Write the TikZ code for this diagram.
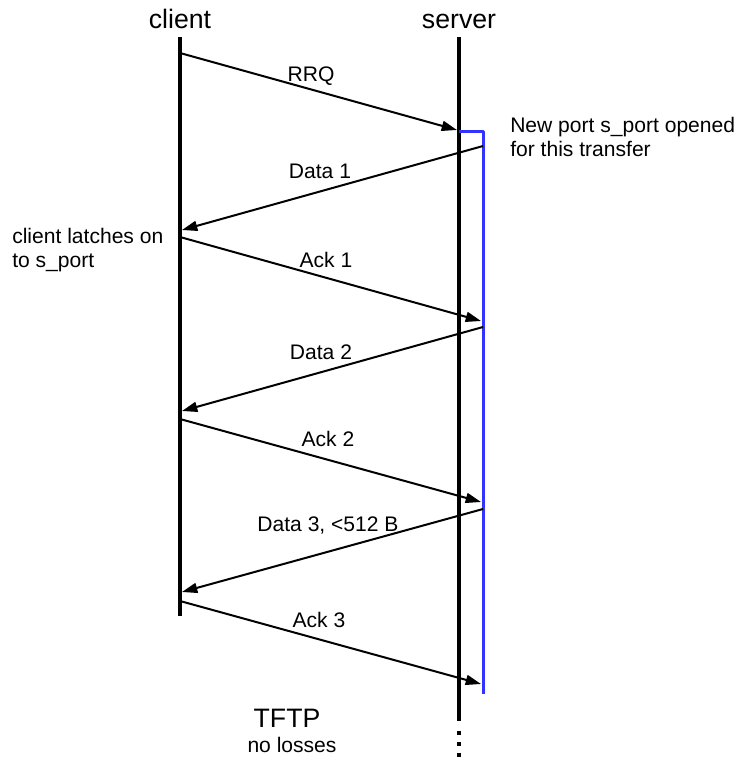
\documentclass[tikz,border=0pt]{standalone}
\usepackage{fontspec}
\setmainfont{Liberation Sans}
\usetikzlibrary{arrows.meta}
\tikzset{
  msg/.style={line width=1.5pt, -{Triangle[length=11.5pt,width=7.5pt]}},
  life/.style={line width=3pt},
  port/.style={line width=2.25pt, draw=portblue},
  lbl/.style={font=\fontsize{15.8}{17.8}\selectfont, inner sep=0pt},
  head/.style={font=\fontsize{20}{23}\selectfont, inner sep=0pt}
}
\definecolor{portblue}{RGB}{51,51,255}
\begin{document}
\begin{tikzpicture}[x=0.75pt, y=-0.75pt, line join=round]
      \useasboundingbox (0,0) rectangle (737,757);
      \def\cx{180}
      \def\sx{459}
      \def\bx{483}
      % lifelines
      \node[head, anchor=base] (client) at (\cx,28) {client};
      \node[head, anchor=base] (server) at (\sx,28) {server};
      \draw[life] (\cx,37) -- (\cx,616);
      \draw[life] (\sx,37) -- (\sx,721);
      \draw[life, dash pattern=on 3pt off 5.25pt] (\sx,731) -- (\sx,757);
      \draw[port] (\sx,131) -- (\bx,131) -- (\bx,694);
      % message end points
      \coordinate (C1) at (\cx,53); \coordinate (S1) at (457,130);
      \coordinate (B1) at (\bx,146); \coordinate (C2) at (182,230);
      \coordinate (C3) at (\cx,237); \coordinate (B2) at (481,321);
      \coordinate (B3) at (\bx,327); \coordinate (C4) at (182,411);
      \coordinate (C5) at (\cx,419); \coordinate (B4) at (481,502);
      \coordinate (B5) at (\bx,509); \coordinate (C6) at (182,592);
      \coordinate (C7) at (\cx,601); \coordinate (B6) at (481,684);
      \draw[msg] (C1) -- (S1);
      \draw[msg] (B1) -- (C2);
      \draw[msg] (C3) -- (B2);
      \draw[msg] (B3) -- (C4);
      \draw[msg] (C5) -- (B4);
      \draw[msg] (B5) -- (C6);
      \draw[msg] (C7) -- (B6);
      \node[lbl, anchor=base] (rrq) at (311,81) {RRQ};
      \node[lbl, anchor=base] (data1) at (320,178) {Data 1};
      \node[lbl, anchor=base] (ack1) at (326,267) {Ack 1};
      \node[lbl, anchor=base] (data2) at (321,359) {Data 2};
      \node[lbl, anchor=base] (ack2) at (328,446) {Ack 2};
      \node[lbl, anchor=base] (data3) at (328,531) {Data 3, <512 B};
      \node[lbl, anchor=base] (ack3) at (319,627) {Ack 3};
      % notes
      \node[lbl, anchor=north west, align=left] (newport) at (510,117)
        {New port s\_port opened\\for this transfer};
      \node[lbl, anchor=north west, align=left] (latch) at (12,228)
        {client latches on\\to s\_port};
      \node[head, anchor=base] (tftp) at (287,727) {TFTP};
      \node[lbl, anchor=base] (losses) at (292,752) {no losses};
    \end{tikzpicture}
\end{document}
